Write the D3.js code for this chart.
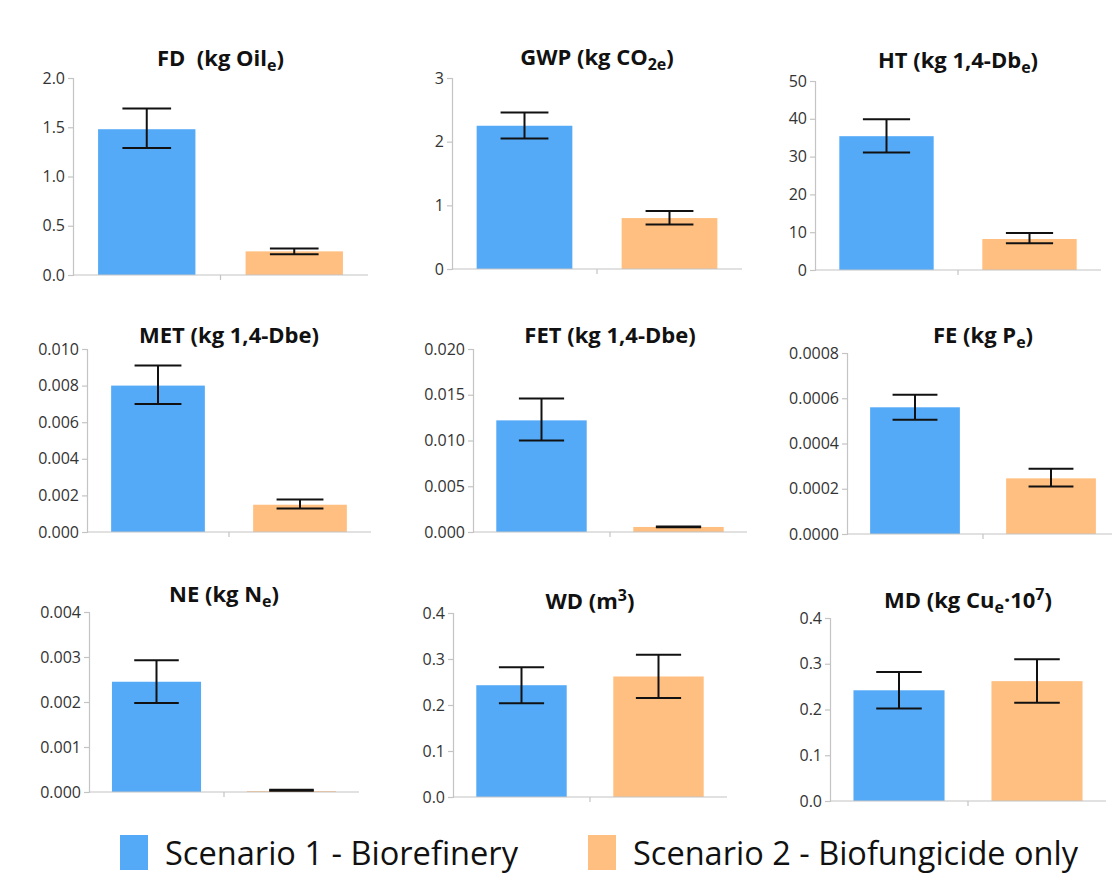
<!DOCTYPE html>
<html>
<head>
<meta charset="utf-8">
<script src="https://cdn.jsdelivr.net/npm/d3@7"></script>
<style>
  html, body { margin: 0; padding: 0; background: #fff; }
  svg { display: block; }
</style>
</head>
<body>
<div id="chart"></div>
<script>
// data
var scenarios = ["Scenario 1 - Biorefinery", "Scenario 2 - Biofungicide only"];
var impactNames = ["FD", "GWP", "HT", "MET", "FET", "FE", "NE", "WD", "MD"];

var scenario1Mean = [1.48, 2.25, 35.4, 0.0080, 0.0122, 0.00056, 0.00245, 0.243, 0.242];
var scenario1Low  = [1.29, 2.05, 31.1, 0.0070, 0.0100, 0.000505, 0.00198, 0.204, 0.202];
var scenario1High = [1.69, 2.46, 39.9, 0.0091, 0.0146, 0.000616, 0.00293, 0.282, 0.282];

var scenario2Mean = [0.24, 0.80, 8.2, 0.00149, 0.00055, 0.000246, 0.00002, 0.262, 0.262];
var scenario2Low  = [0.21, 0.70, 7.05, 0.00129, 0.00052, 0.00021, 0.00003, 0.215, 0.215];
var scenario2High = [0.27, 0.91, 9.8, 0.00177, 0.00060, 0.000288, 0.00005, 0.309, 0.310];

// y tick labels per panel
var tickLabels = [
  ["0.0", "0.5", "1.0", "1.5", "2.0"],
  ["0", "1", "2", "3"],
  ["0", "10", "20", "30", "40", "50"],
  ["0.000", "0.002", "0.004", "0.006", "0.008", "0.010"],
  ["0.000", "0.005", "0.010", "0.015", "0.020"],
  ["0.0000", "0.0002", "0.0004", "0.0006", "0.0008"],
  ["0.000", "0.001", "0.002", "0.003", "0.004"],
  ["0.0", "0.1", "0.2", "0.3", "0.4"],
  ["0.0", "0.1", "0.2", "0.3", "0.4"]
];

// title pieces: [text, kind]
var titleParts = [
  [["FD\u00a0\u00a0(kg Oil", ""], ["e", "sub"], [")", ""]],
  [["GWP (kg CO", ""], ["2e", "sub"], [")", ""]],
  [["HT (kg 1,4-Db", ""], ["e", "sub"], [")", ""]],
  [["MET (kg 1,4-Dbe)", ""]],
  [["FET (kg 1,4-Dbe)", ""]],
  [["FE (kg P", ""], ["e", "sub"], [")", ""]],
  [["NE (kg N", ""], ["e", "sub"], [")", ""]],
  [["WD (m", ""], ["3", "sup"], [")", ""]],
  [["MD (kg Cu", ""], ["e", "sub"], ["\u00b710", ""], ["7", "sup"], [")", ""]]
];

var colors = ["#55aaf8", "#ffbf80"];

// plot boxes (left axis x, right end, top, bottom, title baseline)
var boxes = [
  {l: 73, r: 368, t: 78, b: 275, ty: 66},
  {l: 452, r: 742, t: 78, b: 269, ty: 65},
  {l: 815, r: 1101, t: 81, b: 270, ty: 68},
  {l: 87, r: 371, t: 349, b: 532, ty: 343},
  {l: 473, r: 747, t: 349, b: 532, ty: 343},
  {l: 847, r: 1119, t: 353, b: 534, ty: 343},
  {l: 89, r: 359, t: 612, b: 792, ty: 602},
  {l: 453, r: 727, t: 613, b: 797, ty: 609},
  {l: 830, r: 1106, t: 618, b: 801, ty: 608}
];

var W = 1112, H = 878;
var svg = d3.select("#chart").append("svg")
  .attr("width", W).attr("height", H);

impactNames.forEach(function(name, i) {
  var bx = boxes[i];
  var ticks = tickLabels[i].map(Number);
  var x = d3.scaleBand().domain(scenarios).range([bx.l, bx.r])
    .paddingInner(0.34).paddingOuter(0.17);
  var y = d3.scaleLinear().domain([0, d3.max(ticks)]).range([bx.b, bx.t]);

  var g = svg.append("g").attr("class", "panel-" + name);

  var rows = scenarios.map(function(s, k) {
    return {
      s: s,
      v: k === 0 ? scenario1Mean[i] : scenario2Mean[i],
      lo: k === 0 ? scenario1Low[i] : scenario2Low[i],
      hi: k === 0 ? scenario1High[i] : scenario2High[i],
      c: colors[k]
    };
  });

  // y axis
  var yAxis = g.append("g")
    .attr("transform", "translate(" + bx.l + ",0)")
    .call(d3.axisLeft(y).tickValues(ticks)
      .tickFormat(function(d, j) { return tickLabels[i][j]; })
      .tickSize(5).tickPadding(3));
  yAxis.select(".domain").attr("stroke", "#c4c4c4").attr("stroke-width", 1.2);
  yAxis.selectAll(".tick line").attr("stroke", "#c4c4c4").attr("stroke-width", 1.2);
  yAxis.selectAll(".tick text")
    .attr("fill", "#333")
    .style("font-family", "'Open Sans', sans-serif")
    .style("font-size", "16px");

  // bars
  g.selectAll("rect.bar").data(rows).enter().append("rect")
    .attr("class", "bar")
    .attr("x", function(d) { return x(d.s); })
    .attr("y", function(d) { return y(d.v); })
    .attr("width", x.bandwidth())
    .attr("height", function(d) { return y(0) - y(d.v); })
    .attr("fill", function(d) { return d.c; });

  // x axis with middle tick
  var xAxis = g.append("g");
  xAxis.append("line")
    .attr("x1", bx.l).attr("x2", bx.r)
    .attr("y1", y(0)).attr("y2", y(0))
    .attr("stroke", "#c4c4c4").attr("stroke-width", 1.2);
  var mid = x(scenarios[1]) - x.step() * 0.34 / 2;
  xAxis.append("line")
    .attr("x1", mid).attr("x2", mid)
    .attr("y1", y(0)).attr("y2", y(0) + 5)
    .attr("stroke", "#c4c4c4").attr("stroke-width", 1.2);

  // error bars
  var cap = x.bandwidth() * 0.25;
  var err = g.selectAll("g.err").data(rows).enter().append("g").attr("class", "err")
    .attr("stroke", "#111").attr("stroke-width", 2);
  err.append("line")
    .attr("x1", function(d) { return x(d.s) + x.bandwidth() / 2; })
    .attr("x2", function(d) { return x(d.s) + x.bandwidth() / 2; })
    .attr("y1", function(d) { return y(d.lo); })
    .attr("y2", function(d) { return y(d.hi); });
  ["lo", "hi"].forEach(function(key) {
    err.append("line")
      .attr("x1", function(d) { return x(d.s) + x.bandwidth() / 2 - cap; })
      .attr("x2", function(d) { return x(d.s) + x.bandwidth() / 2 + cap; })
      .attr("y1", function(d) { return y(d[key]); })
      .attr("y2", function(d) { return y(d[key]); });
  });

  // title
  var title = g.append("text")
    .attr("x", (bx.l + bx.r) / 2)
    .attr("y", bx.ty)
    .attr("text-anchor", "middle")
    .attr("fill", "#111")
    .style("font-family", "'Open Sans', sans-serif")
    .style("font-weight", "bold")
    .style("font-size", "22px");
  var shift = 0;
  titleParts[i].forEach(function(p) {
    var want = p[1] === "sub" ? 5 : (p[1] === "sup" ? -8 : 0);
    var ts = title.append("tspan").text(p[0]).attr("dy", want - shift);
    if (p[1]) ts.style("font-size", "16px");
    shift = want;
  });
});

// legend
var legend = svg.append("g");
var legendX = [120, 588];
var legendLen = [353, 445];
scenarios.forEach(function(s, k) {
  legend.append("rect")
    .attr("x", legendX[k]).attr("y", 835)
    .attr("width", 28).attr("height", 35)
    .attr("fill", colors[k]);
  legend.append("text")
    .attr("x", legendX[k] + 45).attr("y", 865)
    .attr("fill", "#111")
    .attr("textLength", legendLen[k])
    .attr("lengthAdjust", "spacingAndGlyphs")
    .style("font-family", "'Open Sans', sans-serif")
    .style("font-size", "33px")
    .text(s);
});
</script>
</body>
</html>
